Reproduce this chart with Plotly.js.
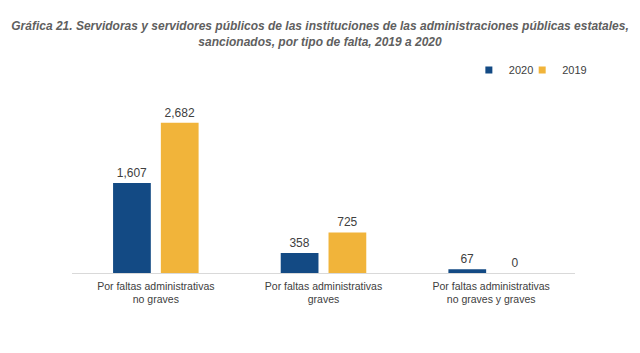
<!DOCTYPE html>
<html><head><meta charset="utf-8">
<script src="https://cdn.plot.ly/plotly-3.0.1.min.js"></script>
<style>html,body{margin:0;padding:0;background:#fff}</style>
</head><body><div id="chart" style="width:640px;height:353px"></div>
<script>
const categories = ["Por faltas administrativas<br>no graves", "Por faltas administrativas<br>graves", "Por faltas administrativas<br>no graves y graves"];
const values2020 = [1607, 358, 67];
const values2019 = [2682, 725, 0];
const seriesNames = ["2020", "2019"];
const colors = ['#134a84', '#f1b43a'];

const fmt = v => v.toLocaleString('en-US');
const tf = {family:'Liberation Sans, Arial', size:12, color:'#404040'};
const traces = [
  {type:'bar', name:seriesNames[0], x:categories, y:values2020, marker:{color:colors[0]},
   text:values2020.map(fmt), textposition:'outside', cliponaxis:false, textfont:tf, showlegend:false},
  {type:'bar', name:seriesNames[1], x:categories, y:values2019, marker:{color:colors[1]},
   text:values2019.map(fmt), textposition:'outside', cliponaxis:false, textfont:tf, showlegend:false},
  {type:'scatter', mode:'markers', name:seriesNames[0], x:[null], y:[null], legend:'legend',
   marker:{symbol:'square', size:7, color:colors[0]}},
  {type:'scatter', mode:'markers', name:seriesNames[1], x:[null], y:[null], legend:'legend2',
   marker:{symbol:'square', size:7, color:colors[1]}}
];
const legFont = {size:11, color:'#404040'};
const layout = {
  width:640, height:353,
  margin:{l:72, r:65, t:105, b:80},
  paper_bgcolor:'#fff', plot_bgcolor:'#fff',
  font:{family:'Liberation Sans, Arial', color:'#404040'},
  title:{text:'<b><i>Gráfica 21. Servidoras y servidores públicos de las instituciones de las administraciones públicas estatales,<br>sancionados, por tipo de falta, 2019 a 2020</i></b>',
    font:{family:'Liberation Sans, Arial', size:12, color:'#5f5f5f'}, x:0.5, xanchor:'center', y:0.915, yanchor:'middle'},
  barmode:'group', bargap:0.43, bargroupgap:0.21,
  showlegend:true,
  legend:{orientation:'h', x:0.789, xanchor:'left', y:1.208, yanchor:'middle', font:legFont, itemwidth:30, bgcolor:'rgba(0,0,0,0)'},
  legend2:{orientation:'h', x:0.895, xanchor:'left', y:1.208, yanchor:'middle', font:legFont, itemwidth:30, bgcolor:'rgba(0,0,0,0)'},
  xaxis:{showline:true, linecolor:'#d9d9d9', linewidth:1, ticks:'', ticklabelstandoff:3,
    tickfont:{size:10.5, color:'#404040'}, fixedrange:true},
  yaxis:{range:[0,3000], visible:false, showgrid:false, zeroline:false, fixedrange:true}
};
Plotly.newPlot('chart', traces, layout, {displayModeBar:false, staticPlot:true});
</script></body></html>
